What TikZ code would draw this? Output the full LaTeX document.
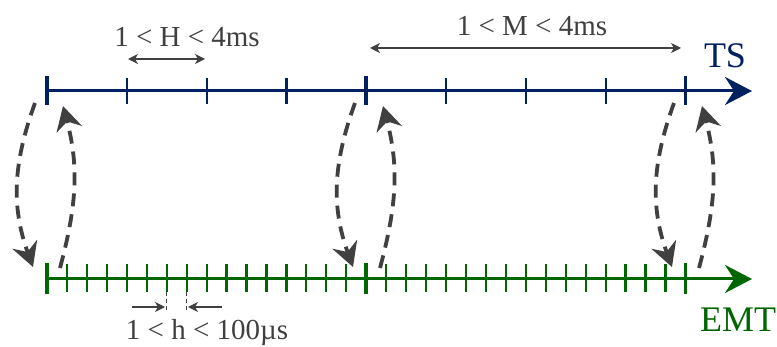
\documentclass[tikz,border=0pt]{standalone}
\usepackage{fontspec}
\setmainfont{Liberation Serif}
\usepackage{xcolor}
\usepackage{tikz}
\usetikzlibrary{arrows.meta, positioning, calc}
\definecolor{tsblue}{RGB}{0,32,96}
\definecolor{emtgreen}{RGB}{0,102,0}
\definecolor{labelgray}{RGB}{64,64,64}
\tikzstyle{tsline} = [tsblue, line width=3pt, -{Stealth[length=27pt, width=28pt, inset=9pt]}]
\tikzstyle{emtline} = [emtgreen, line width=3pt, -{Stealth[length=27pt, width=28pt, inset=9pt]}]
\tikzstyle{majortick} = [line width=3.8pt]
\tikzstyle{minortick} = [line width=2.2pt]
\tikzstyle{sync} = [labelgray, line width=3.8pt, dash pattern=on 13pt off 8pt, -{Stealth[length=24pt, width=26pt, inset=8pt]}]
\tikzstyle{span} = [labelgray, line width=1.4pt, {Stealth[length=10pt, width=10pt, inset=3pt]}-{Stealth[length=10pt, width=10pt, inset=3pt]}]
\tikzstyle{halfspan} = [labelgray, line width=1.4pt, -{Stealth[length=10pt, width=10pt, inset=3pt]}]
\tikzstyle{guide} = [labelgray, line width=0.9pt, dash pattern=on 4pt off 3pt]
\tikzstyle{steplabel} = [labelgray, font=\fontsize{29}{34}\selectfont, inner sep=0pt, anchor=base]
\tikzstyle{scalelabel} = [font=\fontsize{36}{42}\selectfont, inner sep=0pt, anchor=base]

\begin{document}
\begin{tikzpicture}[x=1pt, y=-1pt]
  \useasboundingbox (0,0) rectangle (777,347);

  % time axes
  \coordinate (ts0) at (45,91);
  \coordinate (tsend) at (752,91);
  \coordinate (emt0) at (45,279);
  \coordinate (emtend) at (752,279);
  \draw[tsline] (ts0) -- (tsend);
  \draw[emtline] (emt0) -- (emtend);

  % ticks
  \foreach \i in {1,...,7}
    \draw[tsblue, minortick] (47+79.8*\i,78) -- (47+79.8*\i,104);
  \foreach \i in {0,4,8}
    \draw[tsblue, majortick] (47+79.8*\i,76) -- (47+79.8*\i,105);
  \foreach \i in {1,...,31}
    \draw[emtgreen, minortick] (47+19.95*\i,264) -- (47+19.95*\i,292);
  \foreach \i in {0,16,32}
    \draw[emtgreen, majortick] (47+19.95*\i,263) -- (47+19.95*\i,294);

  % labels
  \node (tslabel) [scalelabel, text=tsblue] at (725,68) {TS};
  \node (emtlabel) [scalelabel, text=emtgreen] at (738,332) {EMT};
  \node (hlabel) [steplabel] at (187,47) {1 < H < 4ms};
  \node (mlabel) [steplabel] at (532,36) {1 < M < 4ms};
  \node (hsmalllabel) [steplabel] at (207,340) {1 < h < 100µs};

  % step widths
  \coordinate (hleft) at (128,59);
  \coordinate (hright) at (205,59);
  \draw[span] (hleft) -- (hright);
  \coordinate (mleft) at (370,48);
  \coordinate (mright) at (681,48);
  \draw[span] (mleft) -- (mright);

  \coordinate (gleft) at (166.7,292);
  \coordinate (gright) at (186.6,292);
  \draw[guide] (gleft) -- ++(0,19);
  \draw[guide] (gright) -- ++(0,19);
  \coordinate (aleft) at (132,307);
  \coordinate (aright) at (222,307);
  \draw[halfspan] (aleft) -- (165,307);
  \draw[halfspan] (aright) -- (188,307);

  % data exchange
  \foreach \x [count=\k] in {47,367,686} {
    \coordinate (down\k a) at (\x-12,103);
    \coordinate (down\k b) at (\x-14,267);
    \coordinate (up\k a) at (\x+13,268);
    \coordinate (up\k b) at (\x+16,106);
    \draw[sync] (down\k a) to[out=250, in=110] (down\k b);
    \draw[sync] (up\k a) to[out=75, in=-75] (up\k b);
  }
\end{tikzpicture}
\end{document}
